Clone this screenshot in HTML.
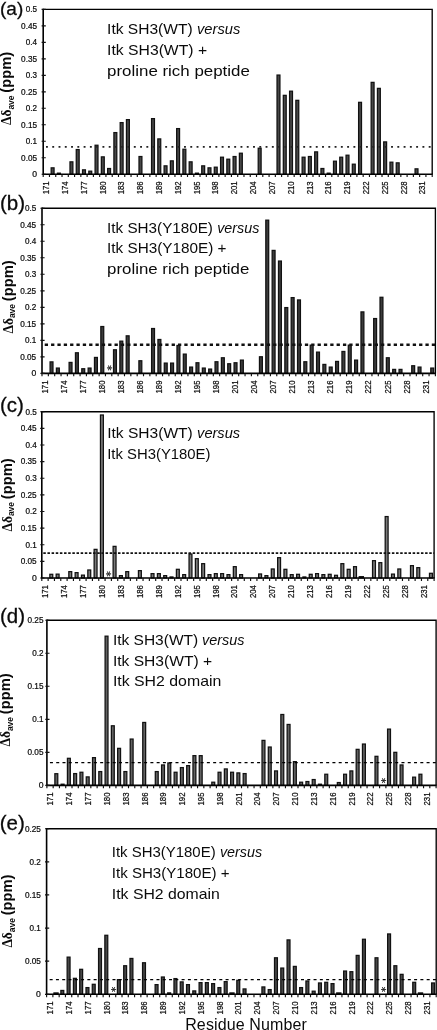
<!DOCTYPE html>
<html lang="en"><head><meta charset="utf-8"><title>Figure</title>
<style>html,body{margin:0;padding:0;background:#fff}body{width:437px;height:1030px;overflow:hidden}svg{display:block}text{font-family:"Liberation Sans",Arial,sans-serif;fill:#0a0a0a}.tk{font-size:8.2px;stroke:#111;stroke-width:.22px}.t{font-size:15px}.yt{font-size:13.8px;font-weight:bold}.sym{font-family:"Liberation Serif",serif;font-weight:bold;font-size:14.2px}.sub{font-size:9.8px;font-weight:bold}.st{font-family:"DejaVu Sans","Liberation Sans",sans-serif;font-size:10.6px;fill:#222;stroke:#222;stroke-width:.25px}</style></head><body>
<svg width="437" height="1030" viewBox="0 0 437 1030">
<rect width="437" height="1030" fill="#fff"/>
<g id="panel-a">
<g fill="#484848" stroke="#111" stroke-width="1.25"><rect x="51.16" y="167.84" width="2.9" height="6.36"/><rect x="57.44" y="173.16" width="2.9" height="1.04"/><rect x="69.98" y="161.85" width="2.9" height="12.35"/><rect x="76.26" y="149.55" width="2.9" height="24.65"/><rect x="82.53" y="169.84" width="2.9" height="4.36"/><rect x="88.81" y="171.17" width="2.9" height="3.03"/><rect x="95.08" y="145.23" width="2.9" height="28.97"/><rect x="101.35" y="156.87" width="2.9" height="17.33"/><rect x="107.63" y="168.51" width="2.9" height="5.69"/><rect x="113.9" y="132.59" width="2.9" height="41.61"/><rect x="120.18" y="122.61" width="2.9" height="51.59"/><rect x="126.45" y="119.62" width="2.9" height="54.58"/><rect x="139" y="156.53" width="2.9" height="17.67"/><rect x="151.55" y="118.62" width="2.9" height="55.58"/><rect x="157.82" y="138.91" width="2.9" height="35.29"/><rect x="164.1" y="165.85" width="2.9" height="8.35"/><rect x="170.37" y="160.86" width="2.9" height="13.34"/><rect x="176.65" y="128.6" width="2.9" height="45.6"/><rect x="182.92" y="149.22" width="2.9" height="24.98"/><rect x="189.19" y="161.85" width="2.9" height="12.35"/><rect x="195.47" y="173.16" width="2.9" height="1.04"/><rect x="201.74" y="165.85" width="2.9" height="8.35"/><rect x="208.02" y="167.84" width="2.9" height="6.36"/><rect x="214.29" y="167.18" width="2.9" height="7.02"/><rect x="220.56" y="157.2" width="2.9" height="17"/><rect x="226.84" y="159.19" width="2.9" height="15.01"/><rect x="233.11" y="156.53" width="2.9" height="17.67"/><rect x="239.39" y="153.21" width="2.9" height="20.99"/><rect x="258.21" y="148.22" width="2.9" height="25.98"/><rect x="277.03" y="75.06" width="2.9" height="99.14"/><rect x="283.31" y="95.34" width="2.9" height="78.86"/><rect x="289.58" y="91.18" width="2.9" height="83.02"/><rect x="295.85" y="100.33" width="2.9" height="73.87"/><rect x="302.13" y="157.2" width="2.9" height="17"/><rect x="308.4" y="156.53" width="2.9" height="17.67"/><rect x="314.68" y="151.88" width="2.9" height="22.32"/><rect x="320.95" y="168.51" width="2.9" height="5.69"/><rect x="327.23" y="173.16" width="2.9" height="1.04"/><rect x="333.5" y="161.19" width="2.9" height="13.01"/><rect x="339.77" y="157.2" width="2.9" height="17"/><rect x="346.05" y="155.2" width="2.9" height="19"/><rect x="352.32" y="164.18" width="2.9" height="10.02"/><rect x="358.6" y="102.33" width="2.9" height="71.87"/><rect x="371.15" y="82.37" width="2.9" height="91.83"/><rect x="377.42" y="88.36" width="2.9" height="85.84"/><rect x="383.69" y="141.9" width="2.9" height="32.3"/><rect x="389.97" y="162.19" width="2.9" height="12.01"/><rect x="396.24" y="162.85" width="2.9" height="11.35"/><rect x="415.06" y="168.84" width="2.9" height="5.36"/></g>
<path d="M45.99 146.84h1.9M52.26 146.84h1.9M58.54 146.84h1.9M64.81 146.84h1.9M71.08 146.84h1.9M77.36 146.84h1.9M83.63 146.84h1.9M89.91 146.84h1.9M96.18 146.84h1.9M102.45 146.84h1.9M108.73 146.84h1.9M115 146.84h1.9M121.28 146.84h1.9M127.55 146.84h1.9M133.83 146.84h1.9M140.1 146.84h1.9M146.37 146.84h1.9M152.65 146.84h1.9M158.92 146.84h1.9M165.2 146.84h1.9M171.47 146.84h1.9M177.75 146.84h1.9M184.02 146.84h1.9M190.29 146.84h1.9M196.57 146.84h1.9M202.84 146.84h1.9M209.12 146.84h1.9M215.39 146.84h1.9M221.66 146.84h1.9M227.94 146.84h1.9M234.21 146.84h1.9M240.49 146.84h1.9M246.76 146.84h1.9M253.04 146.84h1.9M259.31 146.84h1.9M265.58 146.84h1.9M271.86 146.84h1.9M278.13 146.84h1.9M284.41 146.84h1.9M290.68 146.84h1.9M296.95 146.84h1.9M303.23 146.84h1.9M309.5 146.84h1.9M315.78 146.84h1.9M322.05 146.84h1.9M328.33 146.84h1.9M334.6 146.84h1.9M340.87 146.84h1.9M347.15 146.84h1.9M353.42 146.84h1.9M359.7 146.84h1.9M365.97 146.84h1.9M372.25 146.84h1.9M378.52 146.84h1.9M384.79 146.84h1.9M391.07 146.84h1.9M397.34 146.84h1.9M403.62 146.84h1.9M409.89 146.84h1.9M416.16 146.84h1.9M422.44 146.84h1.9M428.71 146.84h1.9" stroke="#222" stroke-width="1.7" fill="none"/>
<path d="M43.2 9.4H432.2V174.2" stroke="#000" stroke-width="1.35" fill="none"/>
<path d="M43.2 8.8V174.2H432.8" stroke="#000" stroke-width="1.6" fill="none"/>
<path d="M43.2 174.2v2.9M49.47 174.2v2.9M55.75 174.2v2.9M62.02 174.2v2.9M68.3 174.2v2.9M74.57 174.2v2.9M80.85 174.2v2.9M87.12 174.2v2.9M93.39 174.2v2.9M99.67 174.2v2.9M105.94 174.2v2.9M112.22 174.2v2.9M118.49 174.2v2.9M124.76 174.2v2.9M131.04 174.2v2.9M137.31 174.2v2.9M143.59 174.2v2.9M149.86 174.2v2.9M156.14 174.2v2.9M162.41 174.2v2.9M168.68 174.2v2.9M174.96 174.2v2.9M181.23 174.2v2.9M187.51 174.2v2.9M193.78 174.2v2.9M200.05 174.2v2.9M206.33 174.2v2.9M212.6 174.2v2.9M218.88 174.2v2.9M225.15 174.2v2.9M231.43 174.2v2.9M237.7 174.2v2.9M243.97 174.2v2.9M250.25 174.2v2.9M256.52 174.2v2.9M262.8 174.2v2.9M269.07 174.2v2.9M275.35 174.2v2.9M281.62 174.2v2.9M287.89 174.2v2.9M294.17 174.2v2.9M300.44 174.2v2.9M306.72 174.2v2.9M312.99 174.2v2.9M319.26 174.2v2.9M325.54 174.2v2.9M331.81 174.2v2.9M338.09 174.2v2.9M344.36 174.2v2.9M350.64 174.2v2.9M356.91 174.2v2.9M363.18 174.2v2.9M369.46 174.2v2.9M375.73 174.2v2.9M382.01 174.2v2.9M388.28 174.2v2.9M394.55 174.2v2.9M400.83 174.2v2.9M407.1 174.2v2.9M413.38 174.2v2.9M419.65 174.2v2.9M425.93 174.2v2.9M432.2 174.2v2.9" stroke="#111" stroke-width="1.15" fill="none"/>
<path d="M41.6 174.2h4.2M41.6 157.72h4.2M41.6 141.24h4.2M41.6 124.76h4.2M41.6 108.28h4.2M41.6 91.8h4.2M41.6 75.32h4.2M41.6 58.84h4.2M41.6 42.36h4.2M41.6 25.88h4.2M41.6 9.4h4.2" stroke="#111" stroke-width="1.15" fill="none"/>
<text class="tk" x="32.3" y="177.1" textLength="4.8" lengthAdjust="spacingAndGlyphs">0</text>
<text class="tk" x="21.1" y="160.62" textLength="16" lengthAdjust="spacingAndGlyphs">0.05</text>
<text class="tk" x="25.8" y="144.14" textLength="11.3" lengthAdjust="spacingAndGlyphs">0.1</text>
<text class="tk" x="21.1" y="127.66" textLength="16" lengthAdjust="spacingAndGlyphs">0.15</text>
<text class="tk" x="25.8" y="111.18" textLength="11.3" lengthAdjust="spacingAndGlyphs">0.2</text>
<text class="tk" x="21.1" y="94.7" textLength="16" lengthAdjust="spacingAndGlyphs">0.25</text>
<text class="tk" x="25.8" y="78.22" textLength="11.3" lengthAdjust="spacingAndGlyphs">0.3</text>
<text class="tk" x="21.1" y="61.74" textLength="16" lengthAdjust="spacingAndGlyphs">0.35</text>
<text class="tk" x="25.8" y="45.26" textLength="11.3" lengthAdjust="spacingAndGlyphs">0.4</text>
<text class="tk" x="21.1" y="28.78" textLength="16" lengthAdjust="spacingAndGlyphs">0.45</text>
<text class="tk" x="25.8" y="12.3" textLength="11.3" lengthAdjust="spacingAndGlyphs">0.5</text>
<text class="tk" transform="translate(49.04 194.3) rotate(-90)" textLength="13" lengthAdjust="spacingAndGlyphs">171</text>
<text class="tk" transform="translate(67.86 194.3) rotate(-90)" textLength="13" lengthAdjust="spacingAndGlyphs">174</text>
<text class="tk" transform="translate(86.68 194.3) rotate(-90)" textLength="13" lengthAdjust="spacingAndGlyphs">177</text>
<text class="tk" transform="translate(105.5 194.3) rotate(-90)" textLength="13" lengthAdjust="spacingAndGlyphs">180</text>
<text class="tk" transform="translate(124.33 194.3) rotate(-90)" textLength="13" lengthAdjust="spacingAndGlyphs">183</text>
<text class="tk" transform="translate(143.15 194.3) rotate(-90)" textLength="13" lengthAdjust="spacingAndGlyphs">186</text>
<text class="tk" transform="translate(161.97 194.3) rotate(-90)" textLength="13" lengthAdjust="spacingAndGlyphs">189</text>
<text class="tk" transform="translate(180.8 194.3) rotate(-90)" textLength="13" lengthAdjust="spacingAndGlyphs">192</text>
<text class="tk" transform="translate(199.62 194.3) rotate(-90)" textLength="13" lengthAdjust="spacingAndGlyphs">195</text>
<text class="tk" transform="translate(218.44 194.3) rotate(-90)" textLength="13" lengthAdjust="spacingAndGlyphs">198</text>
<text class="tk" transform="translate(237.26 194.3) rotate(-90)" textLength="13" lengthAdjust="spacingAndGlyphs">201</text>
<text class="tk" transform="translate(256.09 194.3) rotate(-90)" textLength="13" lengthAdjust="spacingAndGlyphs">204</text>
<text class="tk" transform="translate(274.91 194.3) rotate(-90)" textLength="13" lengthAdjust="spacingAndGlyphs">207</text>
<text class="tk" transform="translate(293.73 194.3) rotate(-90)" textLength="13" lengthAdjust="spacingAndGlyphs">210</text>
<text class="tk" transform="translate(312.55 194.3) rotate(-90)" textLength="13" lengthAdjust="spacingAndGlyphs">213</text>
<text class="tk" transform="translate(331.38 194.3) rotate(-90)" textLength="13" lengthAdjust="spacingAndGlyphs">216</text>
<text class="tk" transform="translate(350.2 194.3) rotate(-90)" textLength="13" lengthAdjust="spacingAndGlyphs">219</text>
<text class="tk" transform="translate(369.02 194.3) rotate(-90)" textLength="13" lengthAdjust="spacingAndGlyphs">222</text>
<text class="tk" transform="translate(387.84 194.3) rotate(-90)" textLength="13" lengthAdjust="spacingAndGlyphs">225</text>
<text class="tk" transform="translate(406.67 194.3) rotate(-90)" textLength="13" lengthAdjust="spacingAndGlyphs">228</text>
<text class="tk" transform="translate(425.49 194.3) rotate(-90)" textLength="13" lengthAdjust="spacingAndGlyphs">231</text>
<text x="0" y="15.4" font-size="19" stroke="#111" stroke-width=".3">(a)</text>
<g transform="translate(10.9 125) rotate(-90)"><text class="sym" x="0" y="0" textLength="15.4" lengthAdjust="spacingAndGlyphs">Δδ</text><text class="sub" x="15.4" y="2.7" textLength="14.2" lengthAdjust="spacingAndGlyphs">ave</text><text class="yt" x="32.3" y="0" textLength="40.8" lengthAdjust="spacingAndGlyphs">(ppm)</text></g>
<text class="t" x="107.1" y="34.4" textLength="89.9" lengthAdjust="spacingAndGlyphs">Itk&#160;SH3(WT)&#160;</text>
<text class="t" x="197" y="34.4" textLength="43.3" lengthAdjust="spacingAndGlyphs" font-style="italic">versus</text>
<text class="t" x="107.1" y="54.9" textLength="100" lengthAdjust="spacingAndGlyphs">Itk SH3(WT) +</text>
<text class="t" x="107.1" y="75.6" textLength="142.7" lengthAdjust="spacingAndGlyphs">proline rich peptide</text>
</g>
<g id="panel-b">
<g fill="#3c3c3c" stroke="#111" stroke-width="1.25"><rect x="50.07" y="361.89" width="2.9" height="11.51"/><rect x="56.41" y="368.07" width="2.9" height="5.33"/><rect x="69.1" y="362.42" width="2.9" height="10.98"/><rect x="75.45" y="352.78" width="2.9" height="20.62"/><rect x="81.79" y="368.74" width="2.9" height="4.66"/><rect x="88.14" y="368.07" width="2.9" height="5.33"/><rect x="94.48" y="357.44" width="2.9" height="15.96"/><rect x="100.83" y="326.53" width="2.9" height="46.87"/><rect x="113.52" y="349.79" width="2.9" height="23.61"/><rect x="119.86" y="341.15" width="2.9" height="32.25"/><rect x="126.21" y="335.83" width="2.9" height="37.57"/><rect x="138.9" y="360.76" width="2.9" height="12.64"/><rect x="151.59" y="328.52" width="2.9" height="44.88"/><rect x="157.94" y="339.49" width="2.9" height="33.91"/><rect x="164.28" y="363.09" width="2.9" height="10.31"/><rect x="170.63" y="363.09" width="2.9" height="10.31"/><rect x="176.97" y="345.47" width="2.9" height="27.93"/><rect x="183.32" y="354.11" width="2.9" height="19.29"/><rect x="189.66" y="367.08" width="2.9" height="6.32"/><rect x="196.01" y="362.76" width="2.9" height="10.64"/><rect x="202.35" y="368.07" width="2.9" height="5.33"/><rect x="208.7" y="369.07" width="2.9" height="4.33"/><rect x="215.04" y="361.76" width="2.9" height="11.64"/><rect x="221.39" y="357.77" width="2.9" height="15.63"/><rect x="227.73" y="363.75" width="2.9" height="9.65"/><rect x="234.08" y="362.76" width="2.9" height="10.64"/><rect x="240.42" y="360.1" width="2.9" height="13.3"/><rect x="259.46" y="356.77" width="2.9" height="16.63"/><rect x="265.8" y="220.16" width="2.9" height="153.24"/><rect x="272.15" y="250.41" width="2.9" height="122.99"/><rect x="278.49" y="261.05" width="2.9" height="112.35"/><rect x="284.84" y="307.58" width="2.9" height="65.82"/><rect x="291.18" y="297.61" width="2.9" height="75.79"/><rect x="297.53" y="299.94" width="2.9" height="73.46"/><rect x="303.87" y="361.76" width="2.9" height="11.64"/><rect x="310.22" y="345.14" width="2.9" height="28.26"/><rect x="316.56" y="352.12" width="2.9" height="21.28"/><rect x="322.91" y="364.42" width="2.9" height="8.98"/><rect x="329.25" y="367.08" width="2.9" height="6.32"/><rect x="335.6" y="361.43" width="2.9" height="11.97"/><rect x="341.95" y="351.46" width="2.9" height="21.94"/><rect x="348.29" y="345.14" width="2.9" height="28.26"/><rect x="354.64" y="360.1" width="2.9" height="13.3"/><rect x="360.98" y="311.9" width="2.9" height="61.5"/><rect x="373.67" y="318.55" width="2.9" height="54.85"/><rect x="380.02" y="297.28" width="2.9" height="76.12"/><rect x="386.36" y="357.77" width="2.9" height="15.63"/><rect x="392.71" y="369.4" width="2.9" height="4"/><rect x="399.05" y="369.4" width="2.9" height="4"/><rect x="411.74" y="365.75" width="2.9" height="7.65"/><rect x="418.09" y="367.08" width="2.9" height="6.32"/><rect x="430.78" y="368.07" width="2.9" height="5.33"/></g>
<path d="M44.72 344.69h3.3M51.07 344.69h3.3M57.41 344.69h3.3M63.76 344.69h3.3M70.1 344.69h3.3M76.45 344.69h3.3M82.79 344.69h3.3M89.14 344.69h3.3M95.48 344.69h3.3M101.83 344.69h3.3M108.17 344.69h3.3M114.52 344.69h3.3M120.86 344.69h3.3M127.21 344.69h3.3M133.55 344.69h3.3M139.9 344.69h3.3M146.25 344.69h3.3M152.59 344.69h3.3M158.94 344.69h3.3M165.28 344.69h3.3M171.63 344.69h3.3M177.97 344.69h3.3M184.32 344.69h3.3M190.66 344.69h3.3M197.01 344.69h3.3M203.35 344.69h3.3M209.7 344.69h3.3M216.04 344.69h3.3M222.39 344.69h3.3M228.73 344.69h3.3M235.08 344.69h3.3M241.42 344.69h3.3M247.77 344.69h3.3M254.11 344.69h3.3M260.46 344.69h3.3M266.8 344.69h3.3M273.15 344.69h3.3M279.49 344.69h3.3M285.84 344.69h3.3M292.18 344.69h3.3M298.53 344.69h3.3M304.87 344.69h3.3M311.22 344.69h3.3M317.56 344.69h3.3M323.91 344.69h3.3M330.25 344.69h3.3M336.6 344.69h3.3M342.95 344.69h3.3M349.29 344.69h3.3M355.64 344.69h3.3M361.98 344.69h3.3M368.33 344.69h3.3M374.67 344.69h3.3M381.02 344.69h3.3M387.36 344.69h3.3M393.71 344.69h3.3M400.05 344.69h3.3M406.4 344.69h3.3M412.74 344.69h3.3M419.09 344.69h3.3M425.43 344.69h3.3M431.78 344.69h3.3" stroke="#111" stroke-width="2.6" fill="none"/>
<path d="M42 208.2H435.4V373.4" stroke="#000" stroke-width="1.35" fill="none"/>
<path d="M42 207.6V373.4H436" stroke="#000" stroke-width="1.6" fill="none"/>
<path d="M42 373.4v2.9M48.35 373.4v2.9M54.69 373.4v2.9M61.04 373.4v2.9M67.38 373.4v2.9M73.73 373.4v2.9M80.07 373.4v2.9M86.42 373.4v2.9M92.76 373.4v2.9M99.11 373.4v2.9M105.45 373.4v2.9M111.8 373.4v2.9M118.14 373.4v2.9M124.49 373.4v2.9M130.83 373.4v2.9M137.18 373.4v2.9M143.52 373.4v2.9M149.87 373.4v2.9M156.21 373.4v2.9M162.56 373.4v2.9M168.9 373.4v2.9M175.25 373.4v2.9M181.59 373.4v2.9M187.94 373.4v2.9M194.28 373.4v2.9M200.63 373.4v2.9M206.97 373.4v2.9M213.32 373.4v2.9M219.66 373.4v2.9M226.01 373.4v2.9M232.35 373.4v2.9M238.7 373.4v2.9M245.05 373.4v2.9M251.39 373.4v2.9M257.74 373.4v2.9M264.08 373.4v2.9M270.43 373.4v2.9M276.77 373.4v2.9M283.12 373.4v2.9M289.46 373.4v2.9M295.81 373.4v2.9M302.15 373.4v2.9M308.5 373.4v2.9M314.84 373.4v2.9M321.19 373.4v2.9M327.53 373.4v2.9M333.88 373.4v2.9M340.22 373.4v2.9M346.57 373.4v2.9M352.91 373.4v2.9M359.26 373.4v2.9M365.6 373.4v2.9M371.95 373.4v2.9M378.29 373.4v2.9M384.64 373.4v2.9M390.98 373.4v2.9M397.33 373.4v2.9M403.67 373.4v2.9M410.02 373.4v2.9M416.36 373.4v2.9M422.71 373.4v2.9M429.05 373.4v2.9M435.4 373.4v2.9" stroke="#111" stroke-width="1.15" fill="none"/>
<path d="M40.4 373.4h4.2M40.4 356.88h4.2M40.4 340.36h4.2M40.4 323.84h4.2M40.4 307.32h4.2M40.4 290.8h4.2M40.4 274.28h4.2M40.4 257.76h4.2M40.4 241.24h4.2M40.4 224.72h4.2M40.4 208.2h4.2" stroke="#111" stroke-width="1.15" fill="none"/>
<text class="tk" x="31.4" y="376.3" textLength="4.8" lengthAdjust="spacingAndGlyphs">0</text>
<text class="tk" x="20.2" y="359.78" textLength="16" lengthAdjust="spacingAndGlyphs">0.05</text>
<text class="tk" x="24.9" y="343.26" textLength="11.3" lengthAdjust="spacingAndGlyphs">0.1</text>
<text class="tk" x="20.2" y="326.74" textLength="16" lengthAdjust="spacingAndGlyphs">0.15</text>
<text class="tk" x="24.9" y="310.22" textLength="11.3" lengthAdjust="spacingAndGlyphs">0.2</text>
<text class="tk" x="20.2" y="293.7" textLength="16" lengthAdjust="spacingAndGlyphs">0.25</text>
<text class="tk" x="24.9" y="277.18" textLength="11.3" lengthAdjust="spacingAndGlyphs">0.3</text>
<text class="tk" x="20.2" y="260.66" textLength="16" lengthAdjust="spacingAndGlyphs">0.35</text>
<text class="tk" x="24.9" y="244.14" textLength="11.3" lengthAdjust="spacingAndGlyphs">0.4</text>
<text class="tk" x="20.2" y="227.62" textLength="16" lengthAdjust="spacingAndGlyphs">0.45</text>
<text class="tk" x="24.9" y="211.1" textLength="11.3" lengthAdjust="spacingAndGlyphs">0.5</text>
<text class="tk" transform="translate(47.87 393.5) rotate(-90)" textLength="13" lengthAdjust="spacingAndGlyphs">171</text>
<text class="tk" transform="translate(66.91 393.5) rotate(-90)" textLength="13" lengthAdjust="spacingAndGlyphs">174</text>
<text class="tk" transform="translate(85.94 393.5) rotate(-90)" textLength="13" lengthAdjust="spacingAndGlyphs">177</text>
<text class="tk" transform="translate(104.98 393.5) rotate(-90)" textLength="13" lengthAdjust="spacingAndGlyphs">180</text>
<text class="tk" transform="translate(124.01 393.5) rotate(-90)" textLength="13" lengthAdjust="spacingAndGlyphs">183</text>
<text class="tk" transform="translate(143.05 393.5) rotate(-90)" textLength="13" lengthAdjust="spacingAndGlyphs">186</text>
<text class="tk" transform="translate(162.09 393.5) rotate(-90)" textLength="13" lengthAdjust="spacingAndGlyphs">189</text>
<text class="tk" transform="translate(181.12 393.5) rotate(-90)" textLength="13" lengthAdjust="spacingAndGlyphs">192</text>
<text class="tk" transform="translate(200.16 393.5) rotate(-90)" textLength="13" lengthAdjust="spacingAndGlyphs">195</text>
<text class="tk" transform="translate(219.19 393.5) rotate(-90)" textLength="13" lengthAdjust="spacingAndGlyphs">198</text>
<text class="tk" transform="translate(238.23 393.5) rotate(-90)" textLength="13" lengthAdjust="spacingAndGlyphs">201</text>
<text class="tk" transform="translate(257.26 393.5) rotate(-90)" textLength="13" lengthAdjust="spacingAndGlyphs">204</text>
<text class="tk" transform="translate(276.3 393.5) rotate(-90)" textLength="13" lengthAdjust="spacingAndGlyphs">207</text>
<text class="tk" transform="translate(295.33 393.5) rotate(-90)" textLength="13" lengthAdjust="spacingAndGlyphs">210</text>
<text class="tk" transform="translate(314.37 393.5) rotate(-90)" textLength="13" lengthAdjust="spacingAndGlyphs">213</text>
<text class="tk" transform="translate(333.4 393.5) rotate(-90)" textLength="13" lengthAdjust="spacingAndGlyphs">216</text>
<text class="tk" transform="translate(352.44 393.5) rotate(-90)" textLength="13" lengthAdjust="spacingAndGlyphs">219</text>
<text class="tk" transform="translate(371.48 393.5) rotate(-90)" textLength="13" lengthAdjust="spacingAndGlyphs">222</text>
<text class="tk" transform="translate(390.51 393.5) rotate(-90)" textLength="13" lengthAdjust="spacingAndGlyphs">225</text>
<text class="tk" transform="translate(409.55 393.5) rotate(-90)" textLength="13" lengthAdjust="spacingAndGlyphs">228</text>
<text class="tk" transform="translate(428.58 393.5) rotate(-90)" textLength="13" lengthAdjust="spacingAndGlyphs">231</text>
<text class="st" transform="translate(109.12 368) rotate(90)" x="-2.65" y="5.51">*</text>
<text x="0" y="209.6" font-size="20.5" stroke="#111" stroke-width=".3">(b)</text>
<g transform="translate(12.7 333.5) rotate(-90)"><text class="sym" x="0" y="0" textLength="15.4" lengthAdjust="spacingAndGlyphs">Δδ</text><text class="sub" x="15.4" y="2.7" textLength="14.2" lengthAdjust="spacingAndGlyphs">ave</text><text class="yt" x="32.3" y="0" textLength="40.8" lengthAdjust="spacingAndGlyphs">(ppm)</text></g>
<text class="t" x="107.1" y="233.1" textLength="110.1" lengthAdjust="spacingAndGlyphs">Itk&#160;SH3(Y180E)&#160;</text>
<text class="t" x="217.2" y="233.1" textLength="42.2" lengthAdjust="spacingAndGlyphs" font-style="italic">versus</text>
<text class="t" x="107.1" y="253.4" textLength="119.3" lengthAdjust="spacingAndGlyphs">Itk SH3(Y180E) +</text>
<text class="t" x="107.1" y="274.1" textLength="142.2" lengthAdjust="spacingAndGlyphs">proline rich peptide</text>
</g>
<g id="panel-c">
<g fill="#7a7a7a" stroke="#111" stroke-width="1.25"><rect x="49.84" y="574.3" width="2.9" height="3.7"/><rect x="56.17" y="574.13" width="2.9" height="3.87"/><rect x="68.82" y="571.64" width="2.9" height="6.36"/><rect x="75.15" y="572.64" width="2.9" height="5.36"/><rect x="81.48" y="575.13" width="2.9" height="2.87"/><rect x="87.81" y="569.98" width="2.9" height="8.02"/><rect x="94.13" y="549.36" width="2.9" height="28.64"/><rect x="100.46" y="414.99" width="2.9" height="163.01"/><rect x="113.12" y="546.36" width="2.9" height="31.64"/><rect x="119.44" y="575.63" width="2.9" height="2.37"/><rect x="125.77" y="571.64" width="2.9" height="6.36"/><rect x="138.43" y="570.64" width="2.9" height="7.36"/><rect x="151.08" y="573.64" width="2.9" height="4.36"/><rect x="157.41" y="573.64" width="2.9" height="4.36"/><rect x="163.73" y="575.63" width="2.9" height="2.37"/><rect x="170.06" y="576.96" width="2.9" height="1.04"/><rect x="176.39" y="569.31" width="2.9" height="8.69"/><rect x="182.72" y="574.63" width="2.9" height="3.37"/><rect x="189.04" y="554.01" width="2.9" height="23.99"/><rect x="195.37" y="558.67" width="2.9" height="19.33"/><rect x="201.7" y="563.66" width="2.9" height="14.34"/><rect x="208.03" y="574.63" width="2.9" height="3.37"/><rect x="214.35" y="573.64" width="2.9" height="4.36"/><rect x="220.68" y="573.64" width="2.9" height="4.36"/><rect x="227.01" y="574.63" width="2.9" height="3.37"/><rect x="233.34" y="566.65" width="2.9" height="11.35"/><rect x="239.66" y="574.63" width="2.9" height="3.37"/><rect x="258.65" y="573.97" width="2.9" height="4.03"/><rect x="264.97" y="575.63" width="2.9" height="2.37"/><rect x="271.3" y="568.98" width="2.9" height="9.02"/><rect x="277.63" y="557.67" width="2.9" height="20.33"/><rect x="283.96" y="569.31" width="2.9" height="8.69"/><rect x="290.28" y="574.63" width="2.9" height="3.37"/><rect x="296.61" y="574.3" width="2.9" height="3.7"/><rect x="302.94" y="576.96" width="2.9" height="1.04"/><rect x="309.27" y="574.3" width="2.9" height="3.7"/><rect x="315.59" y="573.64" width="2.9" height="4.36"/><rect x="321.92" y="574.63" width="2.9" height="3.37"/><rect x="328.25" y="574.3" width="2.9" height="3.7"/><rect x="334.57" y="575.3" width="2.9" height="2.7"/><rect x="340.9" y="563.66" width="2.9" height="14.34"/><rect x="347.23" y="569.31" width="2.9" height="8.69"/><rect x="353.56" y="566.65" width="2.9" height="11.35"/><rect x="359.26" y="576.67" width="4.15" height="1.33" fill="#111"/><rect x="372.54" y="560.66" width="2.9" height="17.34"/><rect x="378.87" y="562.66" width="2.9" height="15.34"/><rect x="385.19" y="516.56" width="2.9" height="61.44"/><rect x="391.52" y="574.1" width="2.9" height="3.9"/><rect x="397.85" y="568.98" width="2.9" height="9.02"/><rect x="410.5" y="565.65" width="2.9" height="12.35"/><rect x="416.83" y="567.65" width="2.9" height="10.35"/><rect x="429.49" y="573.3" width="2.9" height="4.7"/></g>
<path d="M43.3 553.19H434.1" stroke="#111" stroke-width="1.7" stroke-dasharray="2.5 1.65" fill="none"/>
<path d="M41.8 411.7H434.1V578" stroke="#000" stroke-width="1.35" fill="none"/>
<path d="M41.8 411.1V578H434.7" stroke="#000" stroke-width="1.6" fill="none"/>
<path d="M41.8 578v2.9M48.13 578v2.9M54.45 578v2.9M60.78 578v2.9M67.11 578v2.9M73.44 578v2.9M79.76 578v2.9M86.09 578v2.9M92.42 578v2.9M98.75 578v2.9M105.07 578v2.9M111.4 578v2.9M117.73 578v2.9M124.06 578v2.9M130.38 578v2.9M136.71 578v2.9M143.04 578v2.9M149.37 578v2.9M155.69 578v2.9M162.02 578v2.9M168.35 578v2.9M174.68 578v2.9M181 578v2.9M187.33 578v2.9M193.66 578v2.9M199.99 578v2.9M206.31 578v2.9M212.64 578v2.9M218.97 578v2.9M225.3 578v2.9M231.62 578v2.9M237.95 578v2.9M244.28 578v2.9M250.6 578v2.9M256.93 578v2.9M263.26 578v2.9M269.59 578v2.9M275.91 578v2.9M282.24 578v2.9M288.57 578v2.9M294.9 578v2.9M301.22 578v2.9M307.55 578v2.9M313.88 578v2.9M320.21 578v2.9M326.53 578v2.9M332.86 578v2.9M339.19 578v2.9M345.52 578v2.9M351.84 578v2.9M358.17 578v2.9M364.5 578v2.9M370.83 578v2.9M377.15 578v2.9M383.48 578v2.9M389.81 578v2.9M396.14 578v2.9M402.46 578v2.9M408.79 578v2.9M415.12 578v2.9M421.45 578v2.9M427.77 578v2.9M434.1 578v2.9" stroke="#111" stroke-width="1.15" fill="none"/>
<path d="M40.2 578h4.2M40.2 561.37h4.2M40.2 544.74h4.2M40.2 528.11h4.2M40.2 511.48h4.2M40.2 494.85h4.2M40.2 478.22h4.2M40.2 461.59h4.2M40.2 444.96h4.2M40.2 428.33h4.2M40.2 411.7h4.2" stroke="#111" stroke-width="1.15" fill="none"/>
<text class="tk" x="31.9" y="580.9" textLength="4.8" lengthAdjust="spacingAndGlyphs">0</text>
<text class="tk" x="20.7" y="564.27" textLength="16" lengthAdjust="spacingAndGlyphs">0.05</text>
<text class="tk" x="25.4" y="547.64" textLength="11.3" lengthAdjust="spacingAndGlyphs">0.1</text>
<text class="tk" x="20.7" y="531.01" textLength="16" lengthAdjust="spacingAndGlyphs">0.15</text>
<text class="tk" x="25.4" y="514.38" textLength="11.3" lengthAdjust="spacingAndGlyphs">0.2</text>
<text class="tk" x="20.7" y="497.75" textLength="16" lengthAdjust="spacingAndGlyphs">0.25</text>
<text class="tk" x="25.4" y="481.12" textLength="11.3" lengthAdjust="spacingAndGlyphs">0.3</text>
<text class="tk" x="20.7" y="464.49" textLength="16" lengthAdjust="spacingAndGlyphs">0.35</text>
<text class="tk" x="25.4" y="447.86" textLength="11.3" lengthAdjust="spacingAndGlyphs">0.4</text>
<text class="tk" x="20.7" y="431.23" textLength="16" lengthAdjust="spacingAndGlyphs">0.45</text>
<text class="tk" x="25.4" y="414.6" textLength="11.3" lengthAdjust="spacingAndGlyphs">0.5</text>
<text class="tk" transform="translate(47.66 598.1) rotate(-90)" textLength="13" lengthAdjust="spacingAndGlyphs">171</text>
<text class="tk" transform="translate(66.65 598.1) rotate(-90)" textLength="13" lengthAdjust="spacingAndGlyphs">174</text>
<text class="tk" transform="translate(85.63 598.1) rotate(-90)" textLength="13" lengthAdjust="spacingAndGlyphs">177</text>
<text class="tk" transform="translate(104.61 598.1) rotate(-90)" textLength="13" lengthAdjust="spacingAndGlyphs">180</text>
<text class="tk" transform="translate(123.59 598.1) rotate(-90)" textLength="13" lengthAdjust="spacingAndGlyphs">183</text>
<text class="tk" transform="translate(142.57 598.1) rotate(-90)" textLength="13" lengthAdjust="spacingAndGlyphs">186</text>
<text class="tk" transform="translate(161.56 598.1) rotate(-90)" textLength="13" lengthAdjust="spacingAndGlyphs">189</text>
<text class="tk" transform="translate(180.54 598.1) rotate(-90)" textLength="13" lengthAdjust="spacingAndGlyphs">192</text>
<text class="tk" transform="translate(199.52 598.1) rotate(-90)" textLength="13" lengthAdjust="spacingAndGlyphs">195</text>
<text class="tk" transform="translate(218.5 598.1) rotate(-90)" textLength="13" lengthAdjust="spacingAndGlyphs">198</text>
<text class="tk" transform="translate(237.49 598.1) rotate(-90)" textLength="13" lengthAdjust="spacingAndGlyphs">201</text>
<text class="tk" transform="translate(256.47 598.1) rotate(-90)" textLength="13" lengthAdjust="spacingAndGlyphs">204</text>
<text class="tk" transform="translate(275.45 598.1) rotate(-90)" textLength="13" lengthAdjust="spacingAndGlyphs">207</text>
<text class="tk" transform="translate(294.43 598.1) rotate(-90)" textLength="13" lengthAdjust="spacingAndGlyphs">210</text>
<text class="tk" transform="translate(313.42 598.1) rotate(-90)" textLength="13" lengthAdjust="spacingAndGlyphs">213</text>
<text class="tk" transform="translate(332.4 598.1) rotate(-90)" textLength="13" lengthAdjust="spacingAndGlyphs">216</text>
<text class="tk" transform="translate(351.38 598.1) rotate(-90)" textLength="13" lengthAdjust="spacingAndGlyphs">219</text>
<text class="tk" transform="translate(370.36 598.1) rotate(-90)" textLength="13" lengthAdjust="spacingAndGlyphs">222</text>
<text class="tk" transform="translate(389.34 598.1) rotate(-90)" textLength="13" lengthAdjust="spacingAndGlyphs">225</text>
<text class="tk" transform="translate(408.33 598.1) rotate(-90)" textLength="13" lengthAdjust="spacingAndGlyphs">228</text>
<text class="tk" transform="translate(427.31 598.1) rotate(-90)" textLength="13" lengthAdjust="spacingAndGlyphs">231</text>
<text class="st" transform="translate(108.74 573.8) rotate(90)" x="-2.65" y="5.51">*</text>
<text x="0" y="411.5" font-size="20.5" stroke="#111" stroke-width=".3">(c)</text>
<g transform="translate(11.6 531.5) rotate(-90)"><text class="sym" x="0" y="0" textLength="15.4" lengthAdjust="spacingAndGlyphs">Δδ</text><text class="sub" x="15.4" y="2.7" textLength="14.2" lengthAdjust="spacingAndGlyphs">ave</text><text class="yt" x="32.3" y="0" textLength="40.8" lengthAdjust="spacingAndGlyphs">(ppm)</text></g>
<text class="t" x="107.2" y="437.8" textLength="89.9" lengthAdjust="spacingAndGlyphs">Itk&#160;SH3(WT)&#160;</text>
<text class="t" x="197.1" y="437.8" textLength="43" lengthAdjust="spacingAndGlyphs" font-style="italic">versus</text>
<text class="t" x="107.2" y="458.6" textLength="103.3" lengthAdjust="spacingAndGlyphs">Itk SH3(Y180E)</text>
</g>
<g id="panel-d">
<g fill="#626262" stroke="#111" stroke-width="1.25"><rect x="54.87" y="773.71" width="2.9" height="11.69"/><rect x="61.14" y="784.2" width="2.9" height="1.2"/><rect x="67.42" y="758.31" width="2.9" height="27.09"/><rect x="73.7" y="773.58" width="2.9" height="11.82"/><rect x="79.98" y="772.25" width="2.9" height="13.15"/><rect x="86.25" y="776.9" width="2.9" height="8.5"/><rect x="92.53" y="757.64" width="2.9" height="27.76"/><rect x="98.81" y="771.58" width="2.9" height="13.82"/><rect x="105.09" y="636.16" width="2.9" height="149.24"/><rect x="111.36" y="725.78" width="2.9" height="59.62"/><rect x="117.64" y="748.35" width="2.9" height="37.05"/><rect x="123.92" y="771.58" width="2.9" height="13.82"/><rect x="130.2" y="739.06" width="2.9" height="46.34"/><rect x="142.75" y="722.46" width="2.9" height="62.94"/><rect x="155.3" y="771.58" width="2.9" height="13.82"/><rect x="161.58" y="764.95" width="2.9" height="20.45"/><rect x="167.86" y="762.95" width="2.9" height="22.45"/><rect x="174.14" y="772.25" width="2.9" height="13.15"/><rect x="180.41" y="767.6" width="2.9" height="17.8"/><rect x="186.69" y="765.61" width="2.9" height="19.79"/><rect x="192.97" y="755.65" width="2.9" height="29.75"/><rect x="199.25" y="755.65" width="2.9" height="29.75"/><rect x="211.8" y="782.21" width="2.9" height="3.19"/><rect x="218.08" y="772.25" width="2.9" height="13.15"/><rect x="224.36" y="768.93" width="2.9" height="16.47"/><rect x="230.63" y="772.25" width="2.9" height="13.15"/><rect x="236.91" y="772.91" width="2.9" height="12.49"/><rect x="243.19" y="773.58" width="2.9" height="11.82"/><rect x="262.02" y="740.38" width="2.9" height="45.02"/><rect x="268.3" y="747.02" width="2.9" height="38.38"/><rect x="274.58" y="770.92" width="2.9" height="14.48"/><rect x="280.85" y="714.49" width="2.9" height="70.91"/><rect x="287.13" y="724.45" width="2.9" height="60.95"/><rect x="293.41" y="761.63" width="2.9" height="23.77"/><rect x="299.69" y="782.21" width="2.9" height="3.19"/><rect x="305.96" y="781.54" width="2.9" height="3.86"/><rect x="312.24" y="779.55" width="2.9" height="5.85"/><rect x="318.52" y="784.2" width="2.9" height="1.2"/><rect x="324.8" y="774.24" width="2.9" height="11.16"/><rect x="337.35" y="782.54" width="2.9" height="2.86"/><rect x="343.63" y="774.24" width="2.9" height="11.16"/><rect x="349.9" y="770.92" width="2.9" height="14.48"/><rect x="356.18" y="749.35" width="2.9" height="36.05"/><rect x="362.46" y="744.04" width="2.9" height="41.36"/><rect x="375.01" y="756.32" width="2.9" height="29.08"/><rect x="387.57" y="729.1" width="2.9" height="56.3"/><rect x="393.85" y="752.33" width="2.9" height="33.07"/><rect x="400.12" y="764.95" width="2.9" height="20.45"/><rect x="412.68" y="777.16" width="2.9" height="8.24"/><rect x="418.96" y="774.24" width="2.9" height="11.16"/></g>
<path d="M49.94 762.5h3.0M56.22 762.5h3.0M62.49 762.5h3.0M68.77 762.5h3.0M75.05 762.5h3.0M81.33 762.5h3.0M87.6 762.5h3.0M93.88 762.5h3.0M100.16 762.5h3.0M106.44 762.5h3.0M112.71 762.5h3.0M118.99 762.5h3.0M125.27 762.5h3.0M131.55 762.5h3.0M137.82 762.5h3.0M144.1 762.5h3.0M150.38 762.5h3.0M156.65 762.5h3.0M162.93 762.5h3.0M169.21 762.5h3.0M175.49 762.5h3.0M181.76 762.5h3.0M188.04 762.5h3.0M194.32 762.5h3.0M200.6 762.5h3.0M206.87 762.5h3.0M213.15 762.5h3.0M219.43 762.5h3.0M225.71 762.5h3.0M231.98 762.5h3.0M238.26 762.5h3.0M244.54 762.5h3.0M250.82 762.5h3.0M257.09 762.5h3.0M263.37 762.5h3.0M269.65 762.5h3.0M275.93 762.5h3.0M282.2 762.5h3.0M288.48 762.5h3.0M294.76 762.5h3.0M301.04 762.5h3.0M307.31 762.5h3.0M313.59 762.5h3.0M319.87 762.5h3.0M326.15 762.5h3.0M332.42 762.5h3.0M338.7 762.5h3.0M344.98 762.5h3.0M351.25 762.5h3.0M357.53 762.5h3.0M363.81 762.5h3.0M370.09 762.5h3.0M376.36 762.5h3.0M382.64 762.5h3.0M388.92 762.5h3.0M395.2 762.5h3.0M401.47 762.5h3.0M407.75 762.5h3.0M414.03 762.5h3.0M420.31 762.5h3.0M426.58 762.5h3.0M432.86 762.5h3.0" stroke="#000" stroke-width="1.25" fill="none"/>
<path d="M46.9 620.2H436.1V785.4" stroke="#000" stroke-width="1.35" fill="none"/>
<path d="M46.9 619.6V785.4H436.7" stroke="#000" stroke-width="1.6" fill="none"/>
<path d="M46.9 785.4v2.9M53.18 785.4v2.9M59.45 785.4v2.9M65.73 785.4v2.9M72.01 785.4v2.9M78.29 785.4v2.9M84.56 785.4v2.9M90.84 785.4v2.9M97.12 785.4v2.9M103.4 785.4v2.9M109.67 785.4v2.9M115.95 785.4v2.9M122.23 785.4v2.9M128.51 785.4v2.9M134.78 785.4v2.9M141.06 785.4v2.9M147.34 785.4v2.9M153.62 785.4v2.9M159.89 785.4v2.9M166.17 785.4v2.9M172.45 785.4v2.9M178.73 785.4v2.9M185 785.4v2.9M191.28 785.4v2.9M197.56 785.4v2.9M203.84 785.4v2.9M210.11 785.4v2.9M216.39 785.4v2.9M222.67 785.4v2.9M228.95 785.4v2.9M235.22 785.4v2.9M241.5 785.4v2.9M247.78 785.4v2.9M254.05 785.4v2.9M260.33 785.4v2.9M266.61 785.4v2.9M272.89 785.4v2.9M279.16 785.4v2.9M285.44 785.4v2.9M291.72 785.4v2.9M298 785.4v2.9M304.27 785.4v2.9M310.55 785.4v2.9M316.83 785.4v2.9M323.11 785.4v2.9M329.38 785.4v2.9M335.66 785.4v2.9M341.94 785.4v2.9M348.22 785.4v2.9M354.49 785.4v2.9M360.77 785.4v2.9M367.05 785.4v2.9M373.33 785.4v2.9M379.6 785.4v2.9M385.88 785.4v2.9M392.16 785.4v2.9M398.44 785.4v2.9M404.71 785.4v2.9M410.99 785.4v2.9M417.27 785.4v2.9M423.55 785.4v2.9M429.82 785.4v2.9M436.1 785.4v2.9" stroke="#111" stroke-width="1.15" fill="none"/>
<path d="M45.3 785.4h4.2M45.3 752.36h4.2M45.3 719.32h4.2M45.3 686.28h4.2M45.3 653.24h4.2M45.3 620.2h4.2" stroke="#111" stroke-width="1.15" fill="none"/>
<text class="tk" x="38.7" y="788.3" textLength="4.8" lengthAdjust="spacingAndGlyphs">0</text>
<text class="tk" x="27.5" y="755.26" textLength="16" lengthAdjust="spacingAndGlyphs">0.05</text>
<text class="tk" x="32.2" y="722.22" textLength="11.3" lengthAdjust="spacingAndGlyphs">0.1</text>
<text class="tk" x="27.5" y="689.18" textLength="16" lengthAdjust="spacingAndGlyphs">0.15</text>
<text class="tk" x="32.2" y="656.14" textLength="11.3" lengthAdjust="spacingAndGlyphs">0.2</text>
<text class="tk" x="27.5" y="623.1" textLength="16" lengthAdjust="spacingAndGlyphs">0.25</text>
<text class="tk" transform="translate(53.34 805.5) rotate(-90)" textLength="13" lengthAdjust="spacingAndGlyphs">171</text>
<text class="tk" transform="translate(72.17 805.5) rotate(-90)" textLength="13" lengthAdjust="spacingAndGlyphs">174</text>
<text class="tk" transform="translate(91 805.5) rotate(-90)" textLength="13" lengthAdjust="spacingAndGlyphs">177</text>
<text class="tk" transform="translate(109.84 805.5) rotate(-90)" textLength="13" lengthAdjust="spacingAndGlyphs">180</text>
<text class="tk" transform="translate(128.67 805.5) rotate(-90)" textLength="13" lengthAdjust="spacingAndGlyphs">183</text>
<text class="tk" transform="translate(147.5 805.5) rotate(-90)" textLength="13" lengthAdjust="spacingAndGlyphs">186</text>
<text class="tk" transform="translate(166.33 805.5) rotate(-90)" textLength="13" lengthAdjust="spacingAndGlyphs">189</text>
<text class="tk" transform="translate(185.16 805.5) rotate(-90)" textLength="13" lengthAdjust="spacingAndGlyphs">192</text>
<text class="tk" transform="translate(204 805.5) rotate(-90)" textLength="13" lengthAdjust="spacingAndGlyphs">195</text>
<text class="tk" transform="translate(222.83 805.5) rotate(-90)" textLength="13" lengthAdjust="spacingAndGlyphs">198</text>
<text class="tk" transform="translate(241.66 805.5) rotate(-90)" textLength="13" lengthAdjust="spacingAndGlyphs">201</text>
<text class="tk" transform="translate(260.49 805.5) rotate(-90)" textLength="13" lengthAdjust="spacingAndGlyphs">204</text>
<text class="tk" transform="translate(279.33 805.5) rotate(-90)" textLength="13" lengthAdjust="spacingAndGlyphs">207</text>
<text class="tk" transform="translate(298.16 805.5) rotate(-90)" textLength="13" lengthAdjust="spacingAndGlyphs">210</text>
<text class="tk" transform="translate(316.99 805.5) rotate(-90)" textLength="13" lengthAdjust="spacingAndGlyphs">213</text>
<text class="tk" transform="translate(335.82 805.5) rotate(-90)" textLength="13" lengthAdjust="spacingAndGlyphs">216</text>
<text class="tk" transform="translate(354.65 805.5) rotate(-90)" textLength="13" lengthAdjust="spacingAndGlyphs">219</text>
<text class="tk" transform="translate(373.49 805.5) rotate(-90)" textLength="13" lengthAdjust="spacingAndGlyphs">222</text>
<text class="tk" transform="translate(392.32 805.5) rotate(-90)" textLength="13" lengthAdjust="spacingAndGlyphs">225</text>
<text class="tk" transform="translate(411.15 805.5) rotate(-90)" textLength="13" lengthAdjust="spacingAndGlyphs">228</text>
<text class="tk" transform="translate(429.98 805.5) rotate(-90)" textLength="13" lengthAdjust="spacingAndGlyphs">231</text>
<text class="st" transform="translate(383.24 780.7) rotate(90)" x="-2.65" y="5.51">*</text>
<text x="0" y="622.9" font-size="20.5" stroke="#111" stroke-width=".3">(d)</text>
<g transform="translate(10.2 746.5) rotate(-90)"><text class="sym" x="0" y="0" textLength="15.4" lengthAdjust="spacingAndGlyphs">Δδ</text><text class="sub" x="15.4" y="2.7" textLength="14.2" lengthAdjust="spacingAndGlyphs">ave</text><text class="yt" x="32.3" y="0" textLength="40.8" lengthAdjust="spacingAndGlyphs">(ppm)</text></g>
<text class="t" x="112.9" y="644.8" textLength="89.6" lengthAdjust="spacingAndGlyphs">Itk&#160;SH3(WT)&#160;</text>
<text class="t" x="202" y="644.8" textLength="42.4" lengthAdjust="spacingAndGlyphs" font-style="italic">versus</text>
<text class="t" x="112.9" y="665.7" textLength="99.2" lengthAdjust="spacingAndGlyphs">Itk SH3(WT) +</text>
<text class="t" x="112.9" y="686.4" textLength="108.4" lengthAdjust="spacingAndGlyphs">Itk SH2 domain</text>
</g>
<g id="panel-e">
<g fill="#484848" stroke="#111" stroke-width="1.25"><rect x="53.95" y="992.94" width="4.15" height="1.36" fill="#111"/><rect x="60.86" y="990.45" width="2.9" height="3.85"/><rect x="67.14" y="957.13" width="2.9" height="37.17"/><rect x="73.43" y="978.33" width="2.9" height="15.97"/><rect x="79.71" y="969.32" width="2.9" height="24.98"/><rect x="86" y="987.6" width="2.9" height="6.7"/><rect x="92.28" y="984.29" width="2.9" height="10.01"/><rect x="98.56" y="948.52" width="2.9" height="45.78"/><rect x="104.85" y="935.27" width="2.9" height="59.03"/><rect x="117.41" y="979.65" width="2.9" height="14.65"/><rect x="123.7" y="965.74" width="2.9" height="28.56"/><rect x="129.98" y="958.46" width="2.9" height="35.84"/><rect x="142.55" y="962.76" width="2.9" height="31.54"/><rect x="155.12" y="984.62" width="2.9" height="9.68"/><rect x="161.4" y="977" width="2.9" height="17.3"/><rect x="167.69" y="992.9" width="2.9" height="1.4"/><rect x="173.97" y="978.59" width="2.9" height="15.71"/><rect x="180.25" y="981.9" width="2.9" height="12.4"/><rect x="186.54" y="984.62" width="2.9" height="9.68"/><rect x="192.82" y="990.91" width="2.9" height="3.39"/><rect x="199.1" y="982.63" width="2.9" height="11.67"/><rect x="205.39" y="982.63" width="2.9" height="11.67"/><rect x="211.67" y="983.63" width="2.9" height="10.67"/><rect x="217.96" y="987.6" width="2.9" height="6.7"/><rect x="224.24" y="981.64" width="2.9" height="12.66"/><rect x="229.9" y="992.94" width="4.15" height="1.36" fill="#111"/><rect x="236.81" y="980.31" width="2.9" height="13.99"/><rect x="243.09" y="988.93" width="2.9" height="5.37"/><rect x="261.94" y="986.94" width="2.9" height="7.36"/><rect x="268.23" y="989.59" width="2.9" height="4.71"/><rect x="274.51" y="957.79" width="2.9" height="36.51"/><rect x="280.8" y="968.06" width="2.9" height="26.24"/><rect x="287.08" y="939.91" width="2.9" height="54.39"/><rect x="293.36" y="966.4" width="2.9" height="27.9"/><rect x="299.65" y="987.6" width="2.9" height="6.7"/><rect x="305.93" y="980.98" width="2.9" height="13.32"/><rect x="312.21" y="991.18" width="2.9" height="3.12"/><rect x="318.5" y="982.96" width="2.9" height="11.34"/><rect x="324.78" y="982.3" width="2.9" height="12"/><rect x="331.07" y="983.63" width="2.9" height="10.67"/><rect x="336.73" y="992.94" width="4.15" height="1.36" fill="#111"/><rect x="343.63" y="971.04" width="2.9" height="23.26"/><rect x="349.92" y="971.7" width="2.9" height="22.6"/><rect x="356.2" y="955.41" width="2.9" height="38.89"/><rect x="362.49" y="939.25" width="2.9" height="55.05"/><rect x="375.05" y="957.79" width="2.9" height="36.51"/><rect x="387.62" y="933.95" width="2.9" height="60.35"/><rect x="393.9" y="965.74" width="2.9" height="28.56"/><rect x="400.19" y="974.35" width="2.9" height="19.95"/><rect x="412.76" y="982.3" width="2.9" height="12"/><rect x="418.42" y="992.94" width="4.15" height="1.36" fill="#111"/><rect x="431.61" y="982.96" width="2.9" height="11.34"/></g>
<path d="M49.64 979.5h3.0M55.93 979.5h3.0M62.21 979.5h3.0M68.49 979.5h3.0M74.78 979.5h3.0M81.06 979.5h3.0M87.35 979.5h3.0M93.63 979.5h3.0M99.91 979.5h3.0M106.2 979.5h3.0M112.48 979.5h3.0M118.76 979.5h3.0M125.05 979.5h3.0M131.33 979.5h3.0M137.62 979.5h3.0M143.9 979.5h3.0M150.18 979.5h3.0M156.47 979.5h3.0M162.75 979.5h3.0M169.04 979.5h3.0M175.32 979.5h3.0M181.6 979.5h3.0M187.89 979.5h3.0M194.17 979.5h3.0M200.45 979.5h3.0M206.74 979.5h3.0M213.02 979.5h3.0M219.31 979.5h3.0M225.59 979.5h3.0M231.87 979.5h3.0M238.16 979.5h3.0M244.44 979.5h3.0M250.73 979.5h3.0M257.01 979.5h3.0M263.29 979.5h3.0M269.58 979.5h3.0M275.86 979.5h3.0M282.15 979.5h3.0M288.43 979.5h3.0M294.71 979.5h3.0M301 979.5h3.0M307.28 979.5h3.0M313.56 979.5h3.0M319.85 979.5h3.0M326.13 979.5h3.0M332.42 979.5h3.0M338.7 979.5h3.0M344.98 979.5h3.0M351.27 979.5h3.0M357.55 979.5h3.0M363.84 979.5h3.0M370.12 979.5h3.0M376.4 979.5h3.0M382.69 979.5h3.0M388.97 979.5h3.0M395.25 979.5h3.0M401.54 979.5h3.0M407.82 979.5h3.0M414.11 979.5h3.0M420.39 979.5h3.0M426.67 979.5h3.0M432.96 979.5h3.0" stroke="#000" stroke-width="1.25" fill="none"/>
<path d="M46.6 828.7H436.2V994.3" stroke="#000" stroke-width="1.35" fill="none"/>
<path d="M46.6 828.1V994.3H436.8" stroke="#000" stroke-width="1.6" fill="none"/>
<path d="M46.6 994.3v2.9M52.88 994.3v2.9M59.17 994.3v2.9M65.45 994.3v2.9M71.74 994.3v2.9M78.02 994.3v2.9M84.3 994.3v2.9M90.59 994.3v2.9M96.87 994.3v2.9M103.15 994.3v2.9M109.44 994.3v2.9M115.72 994.3v2.9M122.01 994.3v2.9M128.29 994.3v2.9M134.57 994.3v2.9M140.86 994.3v2.9M147.14 994.3v2.9M153.43 994.3v2.9M159.71 994.3v2.9M165.99 994.3v2.9M172.28 994.3v2.9M178.56 994.3v2.9M184.85 994.3v2.9M191.13 994.3v2.9M197.41 994.3v2.9M203.7 994.3v2.9M209.98 994.3v2.9M216.26 994.3v2.9M222.55 994.3v2.9M228.83 994.3v2.9M235.12 994.3v2.9M241.4 994.3v2.9M247.68 994.3v2.9M253.97 994.3v2.9M260.25 994.3v2.9M266.54 994.3v2.9M272.82 994.3v2.9M279.1 994.3v2.9M285.39 994.3v2.9M291.67 994.3v2.9M297.95 994.3v2.9M304.24 994.3v2.9M310.52 994.3v2.9M316.81 994.3v2.9M323.09 994.3v2.9M329.37 994.3v2.9M335.66 994.3v2.9M341.94 994.3v2.9M348.23 994.3v2.9M354.51 994.3v2.9M360.79 994.3v2.9M367.08 994.3v2.9M373.36 994.3v2.9M379.65 994.3v2.9M385.93 994.3v2.9M392.21 994.3v2.9M398.5 994.3v2.9M404.78 994.3v2.9M411.06 994.3v2.9M417.35 994.3v2.9M423.63 994.3v2.9M429.92 994.3v2.9M436.2 994.3v2.9" stroke="#111" stroke-width="1.15" fill="none"/>
<path d="M45 994.3h4.2M45 961.18h4.2M45 928.06h4.2M45 894.94h4.2M45 861.82h4.2M45 828.7h4.2" stroke="#111" stroke-width="1.15" fill="none"/>
<text class="tk" x="36.1" y="997.2" textLength="4.8" lengthAdjust="spacingAndGlyphs">0</text>
<text class="tk" x="24.9" y="964.08" textLength="16" lengthAdjust="spacingAndGlyphs">0.05</text>
<text class="tk" x="29.6" y="930.96" textLength="11.3" lengthAdjust="spacingAndGlyphs">0.1</text>
<text class="tk" x="24.9" y="897.84" textLength="16" lengthAdjust="spacingAndGlyphs">0.15</text>
<text class="tk" x="29.6" y="864.72" textLength="11.3" lengthAdjust="spacingAndGlyphs">0.2</text>
<text class="tk" x="24.9" y="831.6" textLength="16" lengthAdjust="spacingAndGlyphs">0.25</text>
<text class="tk" transform="translate(52.94 1014.4) rotate(-90)" textLength="13" lengthAdjust="spacingAndGlyphs">171</text>
<text class="tk" transform="translate(71.79 1014.4) rotate(-90)" textLength="13" lengthAdjust="spacingAndGlyphs">174</text>
<text class="tk" transform="translate(90.65 1014.4) rotate(-90)" textLength="13" lengthAdjust="spacingAndGlyphs">177</text>
<text class="tk" transform="translate(109.5 1014.4) rotate(-90)" textLength="13" lengthAdjust="spacingAndGlyphs">180</text>
<text class="tk" transform="translate(128.35 1014.4) rotate(-90)" textLength="13" lengthAdjust="spacingAndGlyphs">183</text>
<text class="tk" transform="translate(147.2 1014.4) rotate(-90)" textLength="13" lengthAdjust="spacingAndGlyphs">186</text>
<text class="tk" transform="translate(166.05 1014.4) rotate(-90)" textLength="13" lengthAdjust="spacingAndGlyphs">189</text>
<text class="tk" transform="translate(184.9 1014.4) rotate(-90)" textLength="13" lengthAdjust="spacingAndGlyphs">192</text>
<text class="tk" transform="translate(203.75 1014.4) rotate(-90)" textLength="13" lengthAdjust="spacingAndGlyphs">195</text>
<text class="tk" transform="translate(222.61 1014.4) rotate(-90)" textLength="13" lengthAdjust="spacingAndGlyphs">198</text>
<text class="tk" transform="translate(241.46 1014.4) rotate(-90)" textLength="13" lengthAdjust="spacingAndGlyphs">201</text>
<text class="tk" transform="translate(260.31 1014.4) rotate(-90)" textLength="13" lengthAdjust="spacingAndGlyphs">204</text>
<text class="tk" transform="translate(279.16 1014.4) rotate(-90)" textLength="13" lengthAdjust="spacingAndGlyphs">207</text>
<text class="tk" transform="translate(298.01 1014.4) rotate(-90)" textLength="13" lengthAdjust="spacingAndGlyphs">210</text>
<text class="tk" transform="translate(316.86 1014.4) rotate(-90)" textLength="13" lengthAdjust="spacingAndGlyphs">213</text>
<text class="tk" transform="translate(335.72 1014.4) rotate(-90)" textLength="13" lengthAdjust="spacingAndGlyphs">216</text>
<text class="tk" transform="translate(354.57 1014.4) rotate(-90)" textLength="13" lengthAdjust="spacingAndGlyphs">219</text>
<text class="tk" transform="translate(373.42 1014.4) rotate(-90)" textLength="13" lengthAdjust="spacingAndGlyphs">222</text>
<text class="tk" transform="translate(392.27 1014.4) rotate(-90)" textLength="13" lengthAdjust="spacingAndGlyphs">225</text>
<text class="tk" transform="translate(411.12 1014.4) rotate(-90)" textLength="13" lengthAdjust="spacingAndGlyphs">228</text>
<text class="tk" transform="translate(429.97 1014.4) rotate(-90)" textLength="13" lengthAdjust="spacingAndGlyphs">231</text>
<text class="st" transform="translate(113.08 989.3) rotate(90)" x="-2.65" y="5.51">*</text>
<text class="st" transform="translate(383.29 989.3) rotate(90)" x="-2.65" y="5.51">*</text>
<text x="-0.3" y="829.9" font-size="20.5" stroke="#111" stroke-width=".3">(e)</text>
<g transform="translate(12 947.6) rotate(-90)"><text class="sym" x="0" y="0" textLength="15.4" lengthAdjust="spacingAndGlyphs">Δδ</text><text class="sub" x="15.4" y="2.7" textLength="14.2" lengthAdjust="spacingAndGlyphs">ave</text><text class="yt" x="32.3" y="0" textLength="40.8" lengthAdjust="spacingAndGlyphs">(ppm)</text></g>
<text class="t" x="111.8" y="857.3" textLength="108" lengthAdjust="spacingAndGlyphs">Itk&#160;SH3(Y180E)&#160;</text>
<text class="t" x="219.9" y="857.3" textLength="42.2" lengthAdjust="spacingAndGlyphs" font-style="italic">versus</text>
<text class="t" x="111.8" y="878.4" textLength="117.8" lengthAdjust="spacingAndGlyphs">Itk SH3(Y180E) +</text>
<text class="t" x="111.8" y="899.1" textLength="108.1" lengthAdjust="spacingAndGlyphs">Itk SH2 domain</text>
</g>
<text x="185.2" y="1029.8" font-size="16px" textLength="121.6" lengthAdjust="spacing">Residue Number</text>
</svg></body></html>
